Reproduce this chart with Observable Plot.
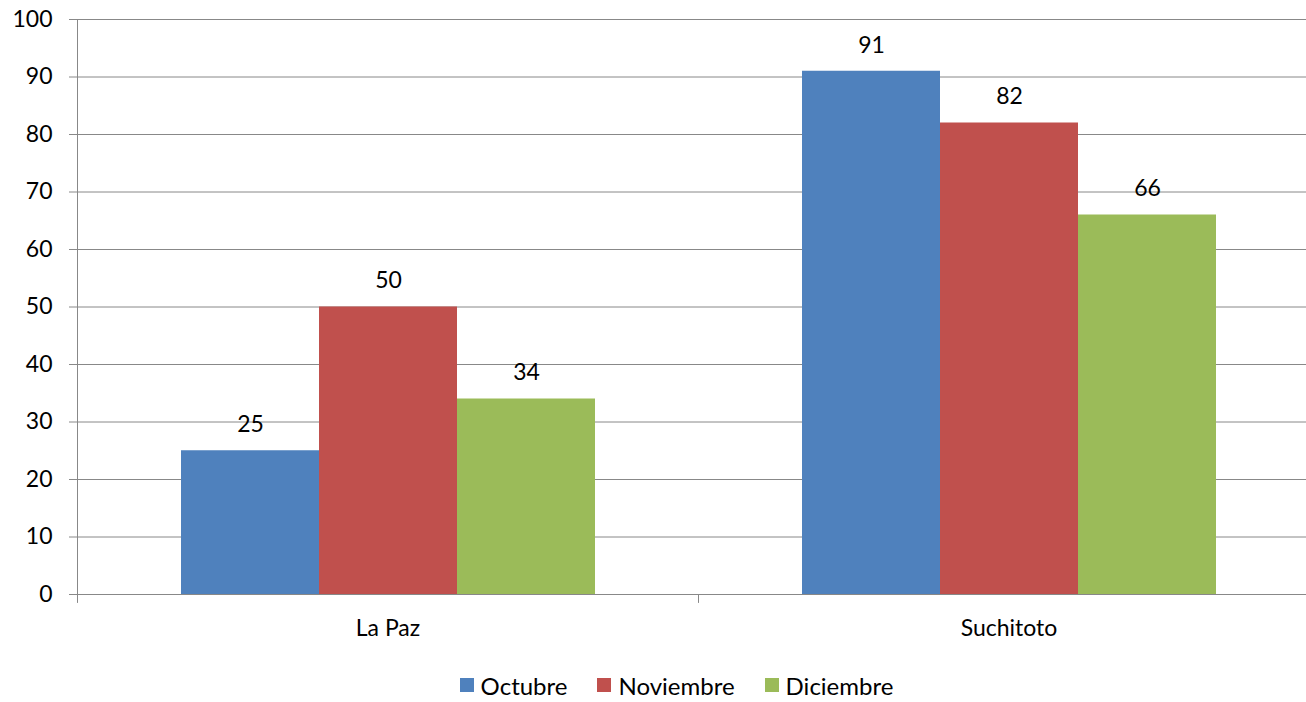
<!DOCTYPE html>
<html>
<head>
<meta charset="utf-8">
<script src="https://cdn.jsdelivr.net/npm/d3@7"></script>
<script src="https://cdn.jsdelivr.net/npm/@observablehq/plot@0.6"></script>
<style>
  html, body { margin: 0; padding: 0; background: #fff; }
  body { width: 1306px; height: 702px; overflow: hidden; font-family: Lato, "Open Sans", sans-serif; }
  #legend { display: flex; justify-content: center; align-items: center; gap: 30px; height: 30px; margin-top: 20px; font-size: 24px; color: #000; padding-left: 47px; }
  #legend .item { display: flex; align-items: center; gap: 7px; }
  #legend .sw { width: 14px; height: 14px; display: inline-block; }
</style>
</head>
<body>
<div id="chart"></div>
<div id="legend"></div>
<script>
const categories = ["La Paz", "Suchitoto"];
const months = ["Octubre", "Noviembre", "Diciembre"];
const colors = ["#4F81BD", "#C0504D", "#9BBB59"];
const octubre = [25, 91];
const noviembre = [50, 82];
const diciembre = [34, 66];
const yTicks = [0, 10, 20, 30, 40, 50, 60, 70, 80, 90, 100];

const seriesValues = [octubre, noviembre, diciembre];
const data = [];
categories.forEach((c, i) => {
  months.forEach((m, j) => data.push({category: c, month: m, value: seriesValues[j][i]}));
});

const gray = "#888888";
const spike = { draw(context, l) { context.moveTo(0, 0); context.lineTo(0, -l); } };

const chart = Plot.plot({
  width: 1306,
  height: 650,
  marginLeft: 77,
  marginRight: -13,
  marginTop: 19,
  marginBottom: 56,
  style: { fontFamily: "Lato, 'Open Sans', sans-serif", fontSize: "23px", color: "#000", background: "#fff" },
  fx: { domain: categories, padding: 0, label: null },
  x: { domain: months, paddingInner: 0, paddingOuter: 0.75, axis: null },
  y: { domain: [0, 100], label: null },
  color: { domain: months, range: colors },
  marks: [
    Plot.gridY(yTicks, { stroke: gray, strokeOpacity: 1, strokeWidth: 1 }),
    Plot.frame({ anchor: "left", stroke: gray, facetAnchor: "left" }),
    Plot.vector([0], { frameAnchor: "bottom-left", length: 8, rotate: 180, anchor: "start", shape: spike, stroke: gray, strokeWidth: 1 }),
    Plot.axisY(yTicks, { tickSize: 8, tickPadding: 17, stroke: gray, fill: "#000", fontSize: 23, label: null }),
    Plot.axisFx({ anchor: "bottom", tickSize: 0, tickPadding: 25, fontSize: 23, fill: "#000", label: null }),
    Plot.barY(data, { fx: "category", x: "month", y: "value", fill: "month" }),
    Plot.text(data, { fx: "category", x: "month", y: "value", text: d => String(d.value), dy: -26, fontSize: 23, fill: "#000" }),
    Plot.ruleY([0], { stroke: gray })
  ]
});
document.getElementById("chart").appendChild(chart);

const legend = document.getElementById("legend");
months.forEach((m, i) => {
  const item = document.createElement("div");
  item.className = "item";
  const sw = document.createElement("span");
  sw.className = "sw";
  sw.style.background = colors[i];
  const t = document.createElement("span");
  t.textContent = m;
  item.appendChild(sw);
  item.appendChild(t);
  legend.appendChild(item);
});
</script>
</body>
</html>
